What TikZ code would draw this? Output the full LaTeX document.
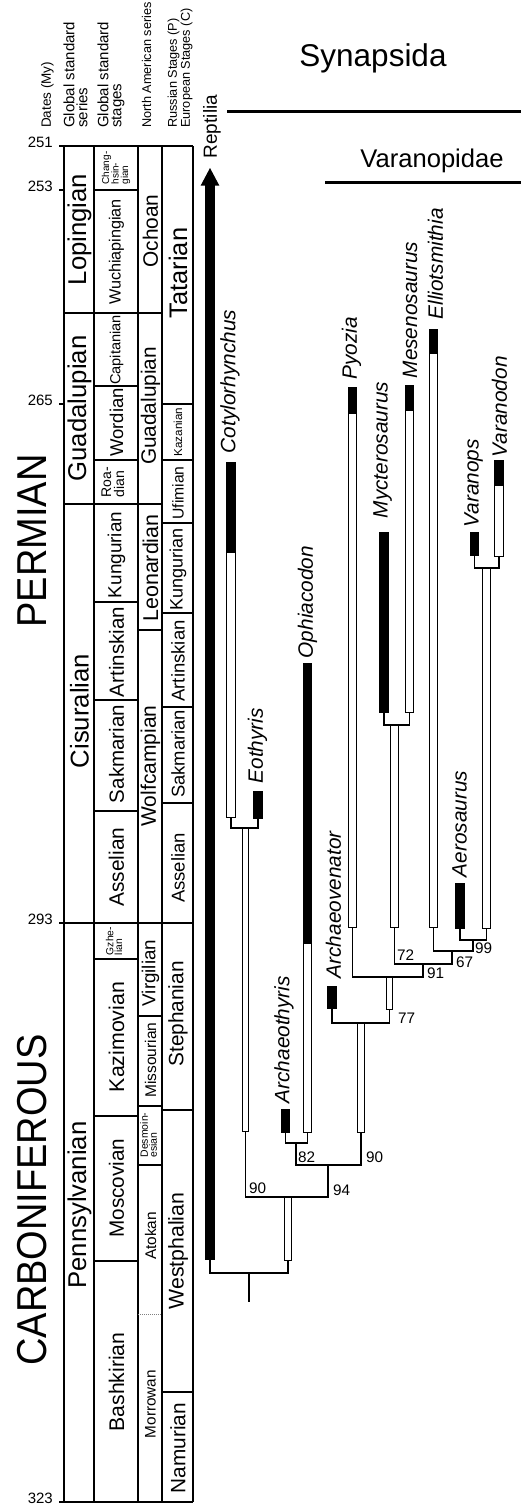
\documentclass[tikz,border=0pt]{standalone}
\usepackage{fontspec}
\setmainfont{Liberation Sans}
\newcommand\fs[1]{\fontsize{#1}{#1}\selectfont}
\newcommand\ghostbar[4]{\draw[ghost] ({#1+0.7},{#3+0.7}) rectangle ({#2-0.7},{#4-0.7});}
\newcommand\blackbar[4]{\fill[black] (#1,#3) rectangle (#2,#4);}
\begin{document}
\begin{tikzpicture}[x=1pt,y=-1pt,
  tbl/.style={line width=1.1pt},
  hdr/.style={rotate=90, anchor=west, inner sep=0pt, align=left},
  cell/.style={rotate=90, inner sep=0pt, align=left},
  era/.style={rotate=90, inner sep=0pt, font=\fs{38}},
  taxon/.style={rotate=90, anchor=west, inner sep=0.5pt, font=\fs{20.8}\itshape},
  ghost/.style={draw=black, fill=white, line width=1.4pt},
  br/.style={line width=1.5pt},
  bval/.style={anchor=base west, inner sep=0pt, font=\fs{15.3}},
  datel/.style={anchor=base east, inner sep=0pt, font=\fs{15}}]
\useasboundingbox (0,0) rectangle (521,1505);
\fill[white] (0,0) rectangle (521,1505);

% ---------------- headers
\node[hdr, font=\fs{13.5}] (hdates) at (47.5,128) {Dates (My)};
\node[hdr, font=\fontsize{15}{13}\selectfont] (hgseries) at (75.5,128) {Global standard\\series};
\node[hdr, font=\fontsize{15}{13}\selectfont] (hgstages) at (111,128) {Global standard\\stages};
\node[hdr, font=\fs{12.7}] (hna) at (146.5,128) {North American series};
\node[hdr, font=\fontsize{12.7}{13}\selectfont] (hru) at (180,128) {Russian Stages (P)\\European Stages (C)};

% ---------------- dates
\node[datel] (d251) at (53,147) {251};
\node[datel] (d253) at (53,191) {253};
\node[datel] (d265) at (53,405) {265};
\node[datel] (d293) at (53,924) {293};
\node[datel] (d323) at (53,1503) {323};

% ---------------- table frame
\draw[tbl] (59,146) -- (193,146);
\draw[tbl] (59,1502) -- (193,1502);
\draw[tbl] (59,923) -- (193,923);
\draw[tbl] (59,190) -- (64,190);
\draw[tbl] (59,404) -- (64,404);
\foreach \x in {64,94,138,162,193} \draw[tbl] (\x,146) -- (\x,1502);
% column 1
\foreach \y in {313,504} \draw[tbl] (64,\y) -- (94,\y);
% column 2
\foreach \y in {190,313,386,460,504,602,700,811,959,1116,1261} \draw[tbl] (94,\y) -- (138,\y);
% column 3
\foreach \y in {313,504,630,1016,1106,1165} \draw[tbl] (138,\y) -- (162,\y);
\draw[line width=0.9pt, gray, dash pattern=on 1pt off 1pt] (138,1314) -- (162,1314);
% column 4
\foreach \y in {404,460,523,613,707,803,1110,1392} \draw[tbl] (162,\y) -- (193,\y);

% ---------------- eras
\node[era] (perm) at (32,541) {\scalebox{1}[1.1]{PERMIAN}};
\node[era] (carb) at (32,1200) {\scalebox{1}[1.1]{CARBONIFEROUS}};

% ---------------- column 1
\node[cell, font=\fs{25.7}] (lop) at (79.5,229.5) {Lopingian};
\node[cell, font=\fs{25.7}] (gua1) at (79.5,408.5) {Guadalupian};
\node[cell, font=\fs{25.7}] (cis) at (79.5,711) {Cisuralian};
\node[cell, font=\fs{25.7}] (pen) at (79.5,1205) {Pennsylvanian};

% ---------------- column 2
\node[cell, font=\fontsize{10}{9.5}\selectfont] (cha) at (116,168) {Chang-\\hsin-\\gian};
\node[cell, font=\fs{16.2}] (wuc) at (116.5,252) {Wuchiapingian};
\node[cell, font=\fs{14.6}] (cap) at (116.5,350) {Capitanian};
\node[cell, font=\fs{18.5}] (wor) at (116.5,422.5) {Wordian};
\node[cell, font=\fontsize{14}{13}\selectfont] (roa) at (113,482) {Roa-\\dian};
\node[cell, font=\fs{18.9}] (kun2) at (116.5,555) {Kungurian};
\node[cell, font=\fs{20.5}] (art2) at (116.5,652) {Artinskian};
\node[cell, font=\fs{20.5}] (sak2) at (116.5,754) {Sakmarian};
\node[cell, font=\fs{20.9}] (ass2) at (116.5,867) {Asselian};
\node[cell, font=\fontsize{10.3}{8.8}\selectfont] (gzh) at (114,941) {Gzhe-\\lian};
\node[cell, font=\fs{21.3}] (kaz) at (116.5,1037) {Kazimovian};
\node[cell, font=\fs{20.7}] (mos) at (116.5,1188) {Moscovian};
\node[cell, font=\fs{21.2}] (bas) at (116.5,1382) {Bashkirian};

% ---------------- column 3
\node[cell, font=\fs{20.9}] (och) at (150.5,231) {Ochoan};
\node[cell, font=\fs{20.8}] (gua3) at (150.5,406) {Guadalupian};
\node[cell, font=\fs{21.4}] (leo) at (150.5,568) {Leonardian};
\node[cell, font=\fs{21}] (wol) at (150.5,766) {Wolfcampian};
\node[cell, font=\fs{18.8}] (vir) at (150.5,973) {Virgilian};
\node[cell, font=\fs{15.5}] (mis) at (150.5,1060) {Missourian};
\node[cell, font=\fontsize{10.5}{9}\selectfont] (des) at (148.5,1135) {Desmoin-\\esian};
\node[cell, font=\fs{15.4}] (ato) at (150.5,1236) {Atokan};
\node[cell, font=\fs{15.3}] (mor) at (150.5,1404) {Morrowan};

% ---------------- column 4
\node[cell, font=\fs{25.4}] (tat) at (178,273) {Tatarian};
\node[cell, font=\fs{11.6}] (kzn) at (178,432) {Kazanian};
\node[cell, font=\fs{15.7}] (ufi) at (178,493) {Ufimian};
\node[cell, font=\fs{18}] (kun4) at (178,569) {Kungurian};
\node[cell, font=\fs{18.5}] (art4) at (178,661) {Artinskian};
\node[cell, font=\fs{18.4}] (sak4) at (178,754) {Sakmarian};
\node[cell, font=\fs{18.5}] (ass4) at (178,868) {Asselian};
\node[cell, font=\fs{20.8}] (ste) at (178,1014) {Stephanian};
\node[cell, font=\fs{21.3}] (wes) at (178,1251) {Westphalian};
\node[cell, font=\fs{20.8}] (nam) at (178,1448) {Namurian};

% ---------------- group titles
\node[anchor=base, inner sep=0pt, font=\fs{31.5}] (syn) at (373,66) {Synapsida};
\draw[line width=3pt] (227,111) -- (521,111);
\node[anchor=base, inner sep=0pt, font=\fs{25.6}] (var) at (432,167) {Varanopidae};
\draw[line width=3pt] (325,182) -- (521,182);

% ---------------- Reptilia
\fill[black] (205,185) rectangle (215,1260);
\fill[black] (200.7,185.5) -- (219.3,185.5) -- (210,168) -- cycle;
\node[rotate=90, anchor=west, inner sep=0.5pt, font=\fs{19}] (rep) at (212,159) {Reptilia};

% ---------------- taxa bars
% Cotylorhynchus / Eothyris
\ghostbar{226}{236}{552}{818}
\blackbar{226}{236}{462}{553}
\blackbar{253}{263}{791}{819}
\draw[br] (231,818) |- (258,828) -- (258,819);
\ghostbar{242}{249}{828}{1132}
\draw[br] (245.5,1132) |- (328,1197) -- (328,1165);
% Archaeothyris / Ophiacodon
\blackbar{281}{290}{1109}{1133}
\ghostbar{303}{312}{943}{1133}
\blackbar{303}{312}{663}{944}
\draw[br] (285.5,1133) |- (307.5,1143) -- (307.5,1133);
\draw[br] (296,1143) -- (296,1165) -- (361,1165) -- (361,1133);
\ghostbar{357}{365}{1023}{1133}
% root
\ghostbar{284}{292}{1197}{1261}
\draw[br] (210,1260) |- (288,1273) -- (288,1260);
\coordinate (root) at (249,1302);
\draw[br] (249,1273) -- (root);
% Archaeovenator
\blackbar{327}{337}{986}{1009}
\draw[br] (332,1009) |- (389.5,1023) -- (389.5,1010);
\ghostbar{386}{393}{977}{1010}
% Pyozia
\ghostbar{348}{357}{413}{928}
\blackbar{348}{357}{387}{414}
\draw[br] (352.5,928) |- (423,977) -- (423,964);
% Mycterosaurus / Mesenosaurus
\blackbar{379}{389}{532}{713}
\ghostbar{405}{414}{410}{713}
\blackbar{405}{414}{385}{411}
\draw[br] (384,713) |- (409.5,725) -- (409.5,713);
\ghostbar{390}{399}{725}{928}
\draw[br] (394.5,928) |- (452,964) -- (452,951);
% Elliotsmithia
\ghostbar{429}{438}{353}{928}
\blackbar{429}{438}{329}{354}
\draw[br] (433.5,928) |- (473,951) -- (473,940);
% Aerosaurus
\blackbar{455}{465}{883}{929}
\draw[br] (460,929) |- (486.5,940) -- (486.5,929);
\ghostbar{482}{491}{568}{929}
% Varanops / Varanodon
\blackbar{470}{479}{532}{556}
\ghostbar{494}{504}{485}{557}
\blackbar{494}{504}{460}{486}
\draw[br] (474.5,556) |- (499,568) -- (499,557);

% ---------------- taxa labels
\node[taxon] (tcot) at (230,454) {Cotylorhynchus};
\node[taxon] (teot) at (257.5,784) {Eothyris};
\node[taxon] (toph) at (307.5,659) {Ophiacodon};
\node[taxon] (tath) at (284,1104) {Archaeothyris};
\node[taxon] (tave) at (333.5,979) {Archaeovenator};
\node[taxon] (tpyo) at (351.5,380) {Pyozia};
\node[taxon] (tmyc) at (382.5,519) {Mycterosaurus};
\node[taxon] (tmes) at (410,379) {Mesenosaurus};
\node[taxon] (tell) at (435.5,320) {Elliotsmithia};
\node[taxon] (taer) at (459.5,878) {Aerosaurus};
\node[taxon] (tvps) at (473.5,528) {Varanops};
\node[taxon] (tvdn) at (499.5,458) {Varanodon};

% ---------------- bootstrap values
\node[bval] (b90a) at (249,1193) {90};
\node[bval] (b94) at (333,1195) {94};
\node[bval] (b82) at (298,1162) {82};
\node[bval] (b90b) at (366,1162) {90};
\node[bval] (b77) at (398,1023) {77};
\node[bval] (b91) at (427,978) {91};
\node[bval] (b72) at (397,960) {72};
\node[bval] (b67) at (456,967) {67};
\node[bval] (b99) at (475,953) {99};
\end{tikzpicture}
\end{document}
